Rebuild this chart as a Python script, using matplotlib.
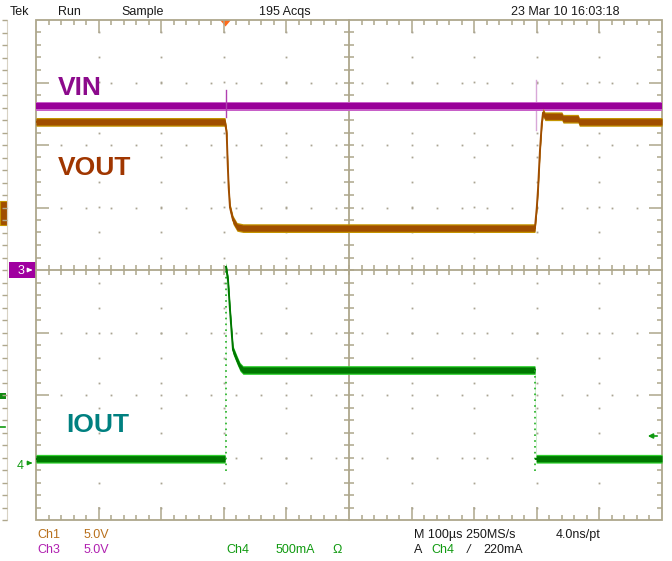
import numpy as np
import matplotlib
matplotlib.use("Agg")
import matplotlib.pyplot as plt
from matplotlib.collections import LineCollection
from matplotlib.patches import Polygon, Rectangle

plt.rcParams['font.family'] = ['Liberation Sans', 'DejaVu Sans']

W, H = 672, 561

# ---------------- data (time in µs from left screen edge, 100 µs/div; level in divisions) ----------
vin_t = [0, 303, 1000]
vin_y = [2.62, 2.62, 2.62]

vout_t = [0, 301.9, 304.6, 306.2, 307.8, 309.9, 314.7, 321.1, 330.7, 797, 800, 802, 805, 808, 810,
          813, 840, 842, 866, 868, 1000]
vout_y = [2.37, 2.37, 2.19, 1.71, 1.32, 1.0, 0.8, 0.69, 0.67, 0.67, 1.0, 1.3, 1.9, 2.35, 2.52,
          2.46, 2.46, 2.42, 2.42, 2.37, 2.37]

iout_t = [0, 302, 303.5, 306.7, 309.9, 313.1, 314.7, 321.1, 325.9, 330.7, 797, 799, 1000]
iout_y = [-3.02, -3.02, 0.05, -0.16, -0.64, -1.07, -1.28, -1.44, -1.55, -1.6, -1.6, -3.02, -3.02]

labels = ["VIN", "VOUT", "IOUT"]
header = ["Tek", "Run", "Sample", "195 Acqs", "23 Mar 10 16:03:18"]

# ---------------- figure ----------------
fig = plt.figure(figsize=(W / 100, H / 100), dpi=100)
fig.patch.set_facecolor('white')

bg = fig.add_axes([0, 0, 1, 1])
bg.set_xlim(0, W)
bg.set_ylim(H, 0)
bg.axis('off')
bg.set_zorder(0)

L, R, T, B = 36, 662, 20, 520
ax = fig.add_axes([L / W, 1 - B / H, (R - L) / W, (B - T) / H])
ax.set_xlim(0, 1000)
ax.set_ylim(-4, 4)
ax.axis('off')
ax.set_zorder(1)
ax.patch.set_alpha(0)

px_x = 1000 / (R - L)      # µs per pixel
px_y = 8 / (B - T)         # div per pixel
grid_c = '#aea78c'
dot_c = '#aaa492'

# frame
ax.add_patch(Rectangle((0, -4), 1000, 8, fill=False, ec=grid_c, lw=1.3, clip_on=False, zorder=2))
# center lines
ax.plot([0, 1000], [0, 0], color=grid_c, lw=1.3, zorder=2, clip_on=False)
ax.plot([500, 500], [-4, 4], color=grid_c, lw=1.3, zorder=2, clip_on=False)

segs = []
# minor ticks on frame and center lines
for i in range(1, 50):
    x = i * 20
    major = (i % 5 == 0)
    ln = (13 if major else 5)
    if x != 500:
        segs.append([(x, 4), (x, 4 - ln * px_y)])
        segs.append([(x, -4), (x, -4 + ln * px_y)])
    segs.append([(x, -5 * px_y), (x, 5 * px_y)])
for j in range(1, 40):
    y = -4 + j * 0.2
    major = (j % 5 == 0)
    ln = (13 if major else 5)
    if abs(y) > 1e-6:
        segs.append([(0, y), (ln * px_x, y)])
        segs.append([(1000, y), (1000 - ln * px_x, y)])
    segs.append([(500 - 5 * px_x, y), (500 + 5 * px_x, y)])
ax.add_collection(LineCollection(segs, colors=grid_c, linewidths=1.1, zorder=2))

# dotted division grid
dx, dy = [], []
for k in range(1, 8):
    if k == 4:
        continue
    yk = -4 + k
    for j in range(1, 25):
        dx.append(j * 40)
        dy.append(yk)
for k in range(1, 10):
    if k == 5:
        continue
    xk = k * 100
    for j in range(0, 20):
        dx.append(xk)
        dy.append(-4 + 0.2 + 0.4 * j)
ax.plot(dx, dy, ls='none', marker='s', ms=1.3, mew=0, color=dot_c, zorder=2)


def draw_trace(t, y, core, edge, hw_edge=0.07, hw_core=0.05, dotted_jumps=False):
    t = np.asarray(t, float)
    y = np.asarray(y, float)
    ax.fill_between(t, y - hw_edge, y + hw_edge, color=edge, lw=0, zorder=4)
    ax.fill_between(t, y - hw_core, y + hw_core, color=core, lw=0, zorder=5)
    start = 0
    for i in range(1, len(t)):
        jump = abs(y[i] - y[i - 1]) > 1.0 and (t[i] - t[i - 1]) < 3
        if jump and dotted_jumps:
            ax.plot(t[start:i], y[start:i], color=core, lw=1.4, zorder=5)
            lo = min(y[i], y[i - 1]) - 0.2
            hi = max(y[i], y[i - 1])
            ax.plot([t[i - 1] + 0.8, t[i - 1] + 0.8], [lo, hi], color='#20b020', lw=1.2,
                    ls=(0, (1, 2.5)), zorder=5)
            start = i
    ax.plot(t[start:], y[start:], color=core, lw=1.4, zorder=5)


# VIN
draw_trace(vin_t, vin_y, '#990099', '#c860c8')
ax.plot([303.5, 303.5], [2.45, 2.88], color='#b040b0', lw=1.0, zorder=6)
ax.plot([799, 799], [2.24, 3.04], color='#d8a8d8', lw=1.0, zorder=3)
# VOUT
draw_trace(vout_t, vout_y, '#a04e00', '#c49400')
# IOUT
draw_trace(iout_t, iout_y, '#007800', '#30d030', dotted_jumps=True)

# trace labels
lab_font = dict(fontsize=19, fontweight='bold', family=['Liberation Sans', 'DejaVu Sans'])
fig.text(58 / W, 1 - 95 / H, labels[0], color='#8c0a8c', va='baseline', **lab_font)
fig.text(58 / W, 1 - 175 / H, labels[1], color='#a03600', va='baseline', **lab_font)
fig.text(66 / W, 1 - 432 / H, labels[2], color='#008080', va='baseline', **lab_font)

# header
hx = [10, 58, 121, 259, 511]
for s, x in zip(header, hx):
    fig.text(x / W, 1 - 15 / H, s, fontsize=9, color='#1a1a1a', va='baseline')

# footer
fs = 9
fig.text(37 / W, 1 - 538 / H, "Ch1", fontsize=fs, color='#b8701c', va='baseline')
fig.text(84 / W, 1 - 538 / H, "5.0V", fontsize=fs, color='#b8701c', va='baseline')
fig.text(37 / W, 1 - 553 / H, "Ch3", fontsize=fs, color='#b020b0', va='baseline')
fig.text(84 / W, 1 - 553 / H, "5.0V", fontsize=fs, color='#b020b0', va='baseline')
fig.text(226 / W, 1 - 553 / H, "Ch4", fontsize=fs, color='#109a10', va='baseline')
fig.text(276 / W, 1 - 553 / H, "500mA", fontsize=fs, color='#109a10', va='baseline')
fig.text(332 / W, 1 - 553 / H, "Ω", fontsize=fs, color='#109a10', va='baseline')
fig.text(414 / W, 1 - 538 / H, "M 100µs 250MS/s", fontsize=fs, color='#1a1a1a', va='baseline')
fig.text(556 / W, 1 - 538 / H, "4.0ns/pt", fontsize=fs, color='#1a1a1a', va='baseline')
fig.text(414 / W, 1 - 553 / H, "A", fontsize=fs, color='#1a1a1a', va='baseline')
fig.text(431 / W, 1 - 553 / H, "Ch4", fontsize=fs, color='#109a10', va='baseline')
fig.text(467 / W, 1 - 553 / H, "/", fontsize=fs, color='#1a1a1a', va='baseline', style='italic')
fig.text(483 / W, 1 - 553 / H, "220mA", fontsize=fs, color='#1a1a1a', va='baseline')

# left-side scale remnants (pixel coordinates on background axes)
bg.plot([7, 7], [20, 520], color='#d8d2c4', lw=0.8)
lsegs = [[(2, yy), (7, yy)] for yy in np.arange(20, 521, 12.5)]
bg.add_collection(LineCollection(lsegs, colors=grid_c, linewidths=1.0))
bg.add_patch(Rectangle((0, 201), 6.5, 24, color='#a04e00', ec='#c49400', lw=0.8))
bg.add_patch(Rectangle((0, 393), 6, 6, color='#108a10', lw=0))
bg.plot([0, 5], [427, 427], color='#109a10', lw=1.2)

# channel markers
bg.add_patch(Rectangle((9, 262), 27, 16, color='#a000a0', lw=0))
bg.text(21, 271, "3", color='white', fontsize=9, ha='center', va='center')
bg.annotate('', xy=(35, 270), xytext=(27, 270),
            arrowprops=dict(arrowstyle='-|>', color='white', lw=1.0, mutation_scale=6))
bg.text(20, 466, "4", color='#109a10', fontsize=9, ha='center', va='center')
bg.annotate('', xy=(35, 463), xytext=(27, 463),
            arrowprops=dict(arrowstyle='-|>', color='#109a10', lw=1.0, mutation_scale=6))
# trigger level arrow at right
bg.annotate('', xy=(645, 436), xytext=(660, 436),
            arrowprops=dict(arrowstyle='-|>', color='#109a10', lw=1.2, mutation_scale=7))
# trigger position marker
bg.add_patch(Polygon([(220, 20), (231, 20), (225.5, 26.5)], closed=True, color='#ff6a1a', lw=0))

fig.savefig('out.png', dpi=100, facecolor='white')
